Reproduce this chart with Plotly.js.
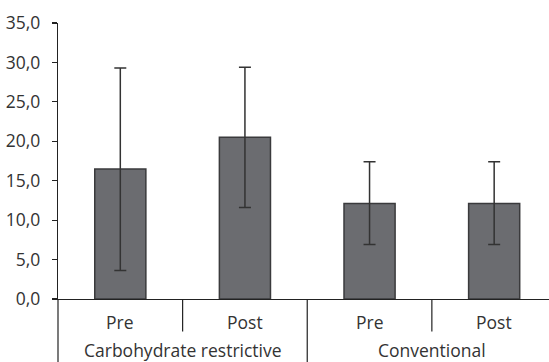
<!DOCTYPE html>
<html><head><meta charset="utf-8">
<script src="https://cdn.plot.ly/plotly-3.0.1.min.js"></script>
<style>html,body{margin:0;padding:0;background:#fff}</style>
</head><body><div id="chart" style="width:549px;height:362px"></div>
<script>
const phases = ['Pre', 'Post', 'Pre', 'Post'];
const groups = ['Carbohydrate restrictive', 'Conventional'];
const means = [16.5, 20.5, 12.1, 12.1];
const errPlus = [12.8, 8.9, 5.3, 5.3];
const errMinus = [12.9, 8.9, 5.2, 5.2];
const yTicks = [0, 5, 10, 15, 20, 25, 30, 35];

const xs = phases.map((_, i) => i);
const font = {family: 'Open Sans, sans-serif', size: 17.5, color: '#333'};

const trace = {
  type: 'bar', x: xs, y: means, width: 0.41,
  marker: {color: '#6b6c70', line: {color: '#3a3a3c', width: 1.5}},
  error_y: {type: 'data', symmetric: false, array: errPlus, arrayminus: errMinus,
            color: '#333', thickness: 1.5, width: 6},
  hoverinfo: 'skip'
};

const annotations = [];
phases.forEach((p, i) => annotations.push({x: i, y: -0.083, xref: 'x', yref: 'paper',
  text: p, showarrow: false, font: Object.assign({}, font), xanchor: 'center', yanchor: 'middle'}));
groups.forEach((g, j) => annotations.push({x: 2 * j + 0.5, y: -0.185, xref: 'x', yref: 'paper',
  text: g, showarrow: false, font: Object.assign({}, font), xanchor: 'center', yanchor: 'middle'}));

const lineStyle = {color: '#222', width: 1.2};
const shapes = [
  {type: 'line', xref: 'paper', yref: 'paper', x0: 0, x1: 0, y0: 0, y1: -0.3, line: lineStyle},
  {type: 'line', xref: 'x', yref: 'paper', x0: 0.5, x1: 0.5, y0: 0, y1: -0.118, line: lineStyle},
  {type: 'line', xref: 'x', yref: 'paper', x0: 1.5, x1: 1.5, y0: 0, y1: -0.3, line: lineStyle},
  {type: 'line', xref: 'x', yref: 'paper', x0: 2.5, x1: 2.5, y0: 0, y1: -0.118, line: lineStyle}
];

const layout = {
  width: 549, height: 362,
  margin: {l: 58, r: 0, t: 23, b: 63},
  paper_bgcolor: '#fff', plot_bgcolor: '#fff',
  separators: ',.',
  showlegend: false,
  font: {family: 'Open Sans, sans-serif', size: 17.5, color: '#333'},
  xaxis: {range: [-0.5, 3.44], showticklabels: false, showgrid: false, zeroline: false,
          showline: true, linecolor: '#222', linewidth: 1.2, ticks: '', fixedrange: true},
  yaxis: {range: [0, 35], tickmode: 'array', tickvals: yTicks, tickformat: '.1f',
          showgrid: false, zeroline: false, automargin: false,
          showline: true, linecolor: '#222', linewidth: 1.2, ticks: 'outside', ticklen: 5,
          tickcolor: '#222', tickwidth: 1.2, ticklabelstandoff: 8,
          tickfont: {family: 'Open Sans, sans-serif', size: 17.5, color: '#333'}, fixedrange: true},
  annotations: annotations,
  shapes: shapes
};

Plotly.newPlot('chart', [trace], layout, {displayModeBar: false, staticPlot: true});
</script></body></html>
